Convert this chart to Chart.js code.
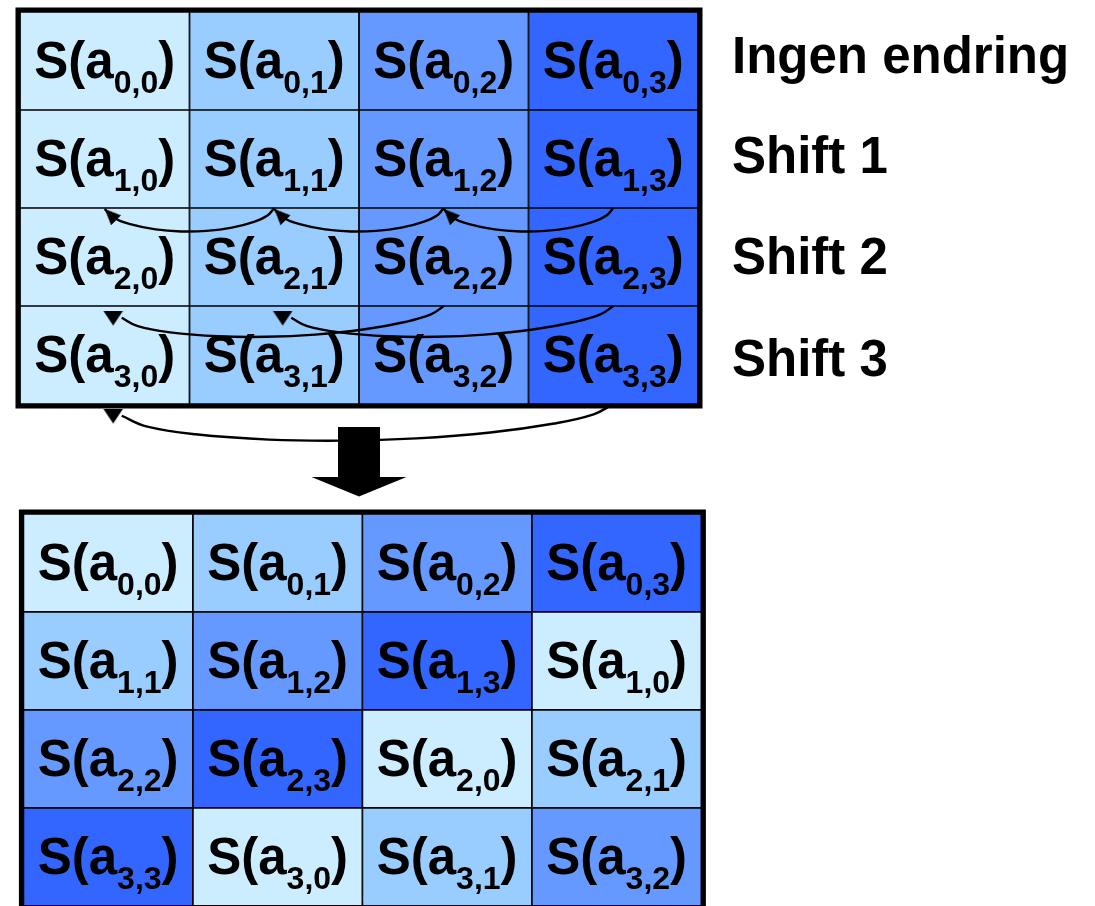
<!DOCTYPE html>
<html><head><meta charset="utf-8">
<script src="https://cdn.jsdelivr.net/npm/chart.js@4.4.1/dist/chart.umd.min.js"></script>
<style>html,body{margin:0;padding:0;background:#fff;} #wrap{width:1095px;height:906px;position:relative;}</style>
</head><body><div id="wrap"><canvas id="c" width="1095" height="906"></canvas></div>
<script>
// ---- data ----
const rowLabels = ['Ingen endring', 'Shift 1', 'Shift 2', 'Shift 3'];
const topGrid = [
  ['0,0', '0,1', '0,2', '0,3'],
  ['1,0', '1,1', '1,2', '1,3'],
  ['2,0', '2,1', '2,2', '2,3'],
  ['3,0', '3,1', '3,2', '3,3']
];
const bottomGrid = [
  ['0,0', '0,1', '0,2', '0,3'],
  ['1,1', '1,2', '1,3', '1,0'],
  ['2,2', '2,3', '2,0', '2,1'],
  ['3,3', '3,0', '3,1', '3,2']
];
const shiftArrows = [
  {row: 1, from: 3, to: 2}, {row: 1, from: 2, to: 1}, {row: 1, from: 1, to: 0},
  {row: 2, from: 3, to: 1}, {row: 2, from: 2, to: 0},
  {row: 3, from: 3, to: 0}
];

// ---- styles / layout ----
const palette = ['#CCECFF', '#99CCFF', '#6699FF', '#3366FF'];
const FONT = "'Liberation Sans', Arial, Helvetica, sans-serif";
const L = {W: 1095, H: 906, gridLeft: 20, cellW: 169.5, gridTop: 12, cellH: 98, axisW: 383, bottomGap: 1.122, bottomDx: 0.02,
           labelPos: [0.48, 1.495, 2.531, 3.571]};
const xMin = -L.gridLeft / L.cellW, xMax = xMin + (L.W - L.axisW) / L.cellW;
const yMin = -L.gridTop / L.cellH, yMax = yMin + L.H / L.cellH;
const nRows = topGrid.length, nCols = topGrid[0].length;
const bottomY0 = nRows + L.bottomGap;
const dipByRow = {1: 0.235, 2: 0.25, 3: 0.31};

function cellData(grid, dx, dy) {
  const out = [];
  grid.forEach((row, r) => row.forEach((lab, c) => {
    out.push({x: [c + dx, c + 1 + dx], y: r + 0.5 + dy, label: lab, color: +lab.split(',')[1]});
  }));
  return out;
}
function frameData(dx, dy) {
  return [{x: dx, y: dy}, {x: nCols + dx, y: dy}, {x: nCols + dx, y: nRows + dy}, {x: dx, y: nRows + dy}, {x: dx, y: dy}];
}
function curveData(a) {
  const down = a.row > 1;
  const xs = a.from + 0.5, yb = a.row + 1;
  const xe = a.to + (down ? 0.6 : 0.5);
  const ye = down ? 0.12 : 0.01;
  const ts = [0, 0.04, 0.12, 0.25, 0.4, 0.55, 0.7, 0.85, 0.95, 1];
  return ts.map(t => ({x: xs + (xe - xs) * t, y: yb + dipByRow[a.row] * Math.pow(4 * t * (1 - t), 0.6) + ye * t}));
}
function headImg(len, w) {
  const c = document.createElement('canvas');
  c.width = 2 * len; c.height = 2 * len;
  const g = c.getContext('2d');
  g.fillStyle = '#000';
  g.beginPath(); g.moveTo(len, len); g.lineTo(len + w / 2, 2 * len); g.lineTo(len - w / 2, 2 * len); g.closePath(); g.fill();
  return c;
}
function blockArrowImg() {
  const c = document.createElement('canvas'); c.width = 96; c.height = 78;
  const g = c.getContext('2d'); g.fillStyle = '#000';
  g.fillRect(27, 7, 42, 51);
  g.beginPath(); g.moveTo(0.5, 57); g.lineTo(95.5, 57); g.lineTo(48, 76.5); g.closePath(); g.fill();
  return c;
}

const headsUp = shiftArrows.filter(a => a.row === 1).map(a => ({x: a.to + 0.5, y: a.row + 1.01}));
const headsDown = shiftArrows.filter(a => a.row > 1).map(a => ({x: a.to + 0.55, y: a.row + 1.2}));

const cellText = {
  id: 'cellText',
  afterDatasetsDraw(chart) {
    const ctx = chart.ctx;
    ctx.save();
    ctx.fillStyle = '#000';
    ctx.textBaseline = 'alphabetic';
    ctx.textAlign = 'left';
    chart.data.datasets.forEach((ds, i) => {
      if (!ds.isCells) return;
      const meta = chart.getDatasetMeta(i);
      meta.data.forEach((el, j) => {
        const p = el.getProps(['x', 'y', 'base'], true);
        const cx = (p.x + p.base) / 2;
        const lab = ds.data[j].label;
        const mainF = 'bold 51px ' + FONT, subF = 'bold 32px ' + FONT;
        ctx.font = mainF; const w1 = ctx.measureText('S(a').width; const w3 = ctx.measureText(')').width;
        ctx.font = subF; const w2 = ctx.measureText(lab).width;
        let x = cx - (w1 + w2 + w3) / 2;
        const base = p.y + 17;
        ctx.font = mainF; ctx.fillText('S(a', x, base); x += w1;
        ctx.font = subF; ctx.fillText(lab, x, base + 15); x += w2;
        ctx.font = mainF; ctx.fillText(')', x, base);
      });
    });
    ctx.restore();
  }
};

const lineBase = {type: 'line', borderColor: '#000', pointRadius: 0, fill: false};
const cellBase = {
  type: 'bar', indexAxis: 'y', isCells: true, grouped: false,
  backgroundColor: c => c.raw ? palette[c.raw.color] : palette[0],
  borderColor: '#000', borderWidth: 1.2, borderSkipped: false,
  barPercentage: 1, categoryPercentage: 1
};

new Chart(document.getElementById('c'), {
  type: 'bar',
  data: {
    datasets: [
      Object.assign({}, lineBase, {data: frameData(0, 0), borderWidth: 9, tension: 0, borderJoinStyle: 'miter', borderCapStyle: 'square', order: 10}),
      Object.assign({}, lineBase, {data: frameData(L.bottomDx, bottomY0), borderWidth: 9, tension: 0, borderJoinStyle: 'miter', borderCapStyle: 'square', order: 10}),
      Object.assign({}, cellBase, {data: cellData(topGrid, 0, 0), order: 8}),
      Object.assign({}, cellBase, {data: cellData(bottomGrid, L.bottomDx, bottomY0), order: 8}),
      ...shiftArrows.map(a => Object.assign({}, lineBase, {data: curveData(a), borderWidth: 2.4, tension: 0.4, order: 4})),
      {type: 'line', showLine: false, data: headsUp, pointStyle: headImg(16, 14), pointRotation: -45, pointRadius: 5, order: 2},
      {type: 'line', showLine: false, data: headsDown, pointStyle: headImg(15, 20), pointRotation: 180, pointRadius: 5, order: 2},
      {type: 'line', showLine: false, data: [{x: nCols / 2, y: (nRows + bottomY0) / 2}], pointStyle: blockArrowImg(), pointRadius: 5, order: 1}
    ]
  },
  options: {
    responsive: false,
    animation: false,
    events: [],
    layout: {padding: 0, autoPadding: false},
    plugins: {legend: {display: false}, tooltip: {enabled: false}},
    scales: {
      x: {type: 'linear', offset: false, min: xMin, max: xMax, display: false},
      y: {
        type: 'linear', offset: false, position: 'right', reverse: true, min: yMin, max: yMax,
        grid: {display: false, drawTicks: false, offset: false}, border: {display: false},
        ticks: {autoSkip: false, padding: 20, color: '#000', font: {family: FONT, size: 51, weight: 'bold'},
          callback: (v, i) => rowLabels[i]},
        afterBuildTicks: s => { s.ticks = L.labelPos.map(v => ({value: v})); },
        afterFit: s => { s.width = L.axisW; s.paddingTop = 0; s.paddingBottom = 0; }
      }
    }
  },
  plugins: [cellText]
});
</script>
</body></html>
